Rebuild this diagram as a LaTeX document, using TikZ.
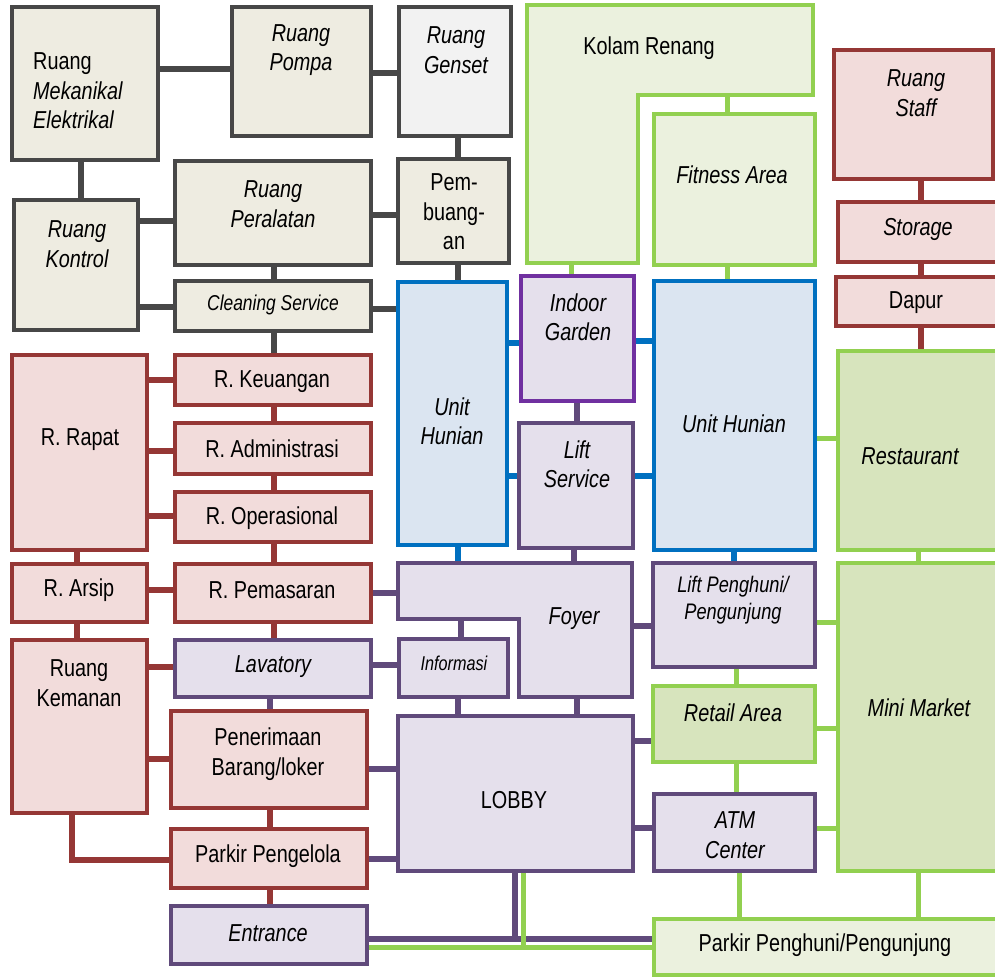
\documentclass[tikz,border=0pt]{standalone}
\usepackage{fontspec}
\setmainfont{Liberation Sans}[FakeStretch=0.81]
\usetikzlibrary{backgrounds}

\definecolor{grayline}{HTML}{474747}
\definecolor{grayfill}{HTML}{EEECE1}
\definecolor{lightfill}{HTML}{F2F2F2}
\definecolor{redline}{HTML}{953735}
\definecolor{redfill}{HTML}{F2DCDB}
\definecolor{blueline}{HTML}{0070C0}
\definecolor{bluefill}{HTML}{DBE5F1}
\definecolor{purpline}{HTML}{604A7B}
\definecolor{violetline}{HTML}{7030A0}
\definecolor{purpfill}{HTML}{E5E0EC}
\definecolor{greenline}{HTML}{92D050}
\definecolor{greenpale}{HTML}{EBF1DE}
\definecolor{greenmid}{HTML}{D7E4BD}

% a room box given by its corner pixels
\newcommand\roombox[6]{%
  \node[#1, minimum width={(#4-#2)*1pt}, minimum height={(#5-#3)*1pt}]
    (#6) at ({(#2+#4)/2},{(#3+#5)/2}) {};}

\tikzset{
  room/.style={draw, line width=3.4pt, inner sep=0pt, outer sep=0pt},
  grayroom/.style={room, draw=grayline, fill=grayfill},
  genroom/.style={room, draw=grayline, fill=lightfill},
  redroom/.style={room, draw=redline, fill=redfill},
  blueroom/.style={room, draw=blueline, fill=bluefill},
  purproom/.style={room, draw=purpline, fill=purpfill},
  violetroom/.style={room, draw=violetline, fill=purpfill},
  paleroom/.style={room, draw=greenline, fill=greenpale},
  midroom/.style={room, draw=greenline, fill=greenmid},
  lbl/.style={align=center, inner sep=0pt, font=\fontsize{24.5}{29.5}\selectfont},
  ilbl/.style={lbl, font=\fontsize{24.5}{29.5}\selectfont\itshape},
  link/.style={line width=5.5pt},
  lgray/.style={link, draw=grayline},
  lred/.style={link, draw=redline, line width=6pt},
  lpurp/.style={link, draw=purpline},
  lblue/.style={link, draw=blueline},
  lgreen/.style={link, draw=greenline, line width=5pt},
}

\begin{document}
\begin{tikzpicture}[x=1pt,y=-1pt]
\useasboundingbox (0,0) rectangle (995,977);

% ---------- service wing (gray)
\roombox{grayroom}{12}{7}{158}{160}{mek}
\roombox{grayroom}{232}{7}{371}{136}{pompa}
\roombox{genroom}{399}{7}{511}{136}{genset}
\roombox{grayroom}{14}{200}{138}{330}{kontrol}
\roombox{grayroom}{175}{161}{371}{265}{alat}
\roombox{grayroom}{398}{159}{509}{263}{buang}
\roombox{grayroom}{175}{281}{371}{331}{clean}

% ---------- residential units (blue)
\roombox{blueroom}{398}{282}{507}{545}{uhl}
\roombox{blueroom}{654}{281}{815}{550}{uhr}

% ---------- recreation (green)
\draw[room, draw=greenline, fill=greenpale]
  (527,5) -- (813,5) -- (813,95) -- (638,95) -- (638,263) -- (527,263) -- cycle;
\coordinate (kolam-s) at (571,263);
\coordinate (kolam-f) at (727,95);
\roombox{paleroom}{654}{114}{815}{265}{fitness}
\roombox{paleroom}{654}{919}{1000}{975}{parkpp}
\roombox{midroom}{838}{351}{1000}{550}{resto}
\roombox{midroom}{838}{563}{1000}{871}{mini}
\roombox{midroom}{653}{686}{815}{762}{retail}

% ---------- management and kitchen (red)
\roombox{redroom}{834}{50}{993}{179}{staff}
\roombox{redroom}{838}{202}{1000}{262}{storage}
\roombox{redroom}{836}{277}{1000}{326}{dapur}
\roombox{redroom}{12}{355}{147}{550}{rapat}
\roombox{redroom}{175}{355}{371}{405}{keu}
\roombox{redroom}{175}{423}{371}{474}{adm}
\roombox{redroom}{175}{492}{371}{542}{ops}
\roombox{redroom}{12}{564}{147}{622}{arsip}
\roombox{redroom}{175}{564}{371}{622}{pemasaran}
\roombox{redroom}{12}{640}{147}{813}{kemanan}
\roombox{redroom}{171}{711}{367}{808}{terima}
\roombox{redroom}{171}{829}{367}{888}{pengelola}

% ---------- public circulation (purple)
\roombox{violetroom}{521}{276}{634}{401}{garden}
\roombox{purproom}{519}{423}{633}{548}{liftsvc}
\draw[room, draw=purpline, fill=purpfill]
  (398,563) -- (632,563) -- (632,697) -- (519,697) -- (519,619) -- (398,619) -- cycle;
\coordinate (foyer-n1) at (458,563);
\coordinate (foyer-n2) at (574,563);
\coordinate (foyer-w) at (398,593);
\coordinate (foyer-e) at (632,626);
\coordinate (foyer-s1) at (461,619);
\coordinate (foyer-s2) at (577,697);
\roombox{purproom}{653}{563}{815}{667}{liftpp}
\roombox{purproom}{175}{640}{371}{697}{lav}
\roombox{purproom}{399}{639}{508}{697}{info}
\roombox{purproom}{398}{716}{633}{871}{lobby}
\roombox{purproom}{654}{794}{815}{871}{atm}
\roombox{purproom}{171}{906}{367}{964}{entrance}

% ---------- links (drawn underneath the rooms)
\begin{scope}[on background layer]
\fill[white] (0,0) rectangle (995,977);
% service wing
\draw[lgray] (mek.east |- 0,69) -- (pompa.west |- 0,69);
\draw[lgray] (pompa.east |- 0,73) -- (genset.west |- 0,73);
\draw[lgray] (genset.south -| 458,0) -- (buang.north -| 458,0);
\draw[lgray] (mek.south -| 81,0) -- (kontrol.north -| 81,0);
\draw[lgray] (kontrol.east |- 0,221) -- (alat.west |- 0,221);
\draw[lgray] (alat.east |- 0,215) -- (buang.west |- 0,215);
\draw[lgray] (alat.south -| 274,0) -- (clean.north -| 274,0);
\draw[lgray] (kontrol.east |- 0,307) -- (clean.west |- 0,307);
\draw[lgray] (clean.east |- 0,309) -- (uhl.west |- 0,309);
\draw[lgray] (buang.south -| 458,0) -- (uhl.north -| 458,0);
\draw[lgray] (clean.south -| 274,0) -- (keu.north -| 274,0);
% offices
\draw[lred] (rapat.east |- 0,380) -- (keu.west |- 0,380);
\draw[lred] (rapat.east |- 0,451) -- (adm.west |- 0,451);
\draw[lred] (rapat.east |- 0,516) -- (ops.west |- 0,516);
\draw[lred] (keu.south -| 274,0) -- (adm.north -| 274,0);
\draw[lred] (adm.south -| 274,0) -- (ops.north -| 274,0);
\draw[lred] (ops.south -| 274,0) -- (pemasaran.north -| 274,0);
\draw[lred] (rapat.south -| 77,0) -- (arsip.north -| 77,0);
\draw[lred] (arsip.east |- 0,590) -- (pemasaran.west |- 0,590);
\draw[lred] (arsip.south -| 77,0) -- (kemanan.north -| 77,0);
\draw[lred] (pemasaran.south -| 274,0) -- (lav.north -| 274,0);
\draw[lred] (kemanan.east |- 0,667) -- (lav.west |- 0,667);
\draw[lred] (kemanan.east |- 0,759) -- (terima.west |- 0,759);
\draw[lred] (terima.south -| 270,0) -- (pengelola.north -| 270,0);
\draw[lred] (kemanan.south -| 72,0) |- (pengelola.west |- 0,860);
\draw[lred] (pengelola.south -| 270,0) -- (entrance.north -| 270,0);
% kitchen
\draw[lred] (staff.south -| 921,0) -- (storage.north -| 921,0);
\draw[lred] (storage.south -| 921,0) -- (dapur.north -| 921,0);
\draw[lred] (dapur.south -| 921,0) -- (resto.north -| 921,0);
% residential
\draw[lblue] (uhl.east |- 0,343) -- (garden.west |- 0,343);
\draw[lblue] (garden.east |- 0,341) -- (uhr.west |- 0,341);
\draw[lblue] (uhl.east |- 0,476) -- (liftsvc.west |- 0,476);
\draw[lblue] (liftsvc.east |- 0,476) -- (uhr.west |- 0,476);
\draw[lblue] (uhl.south -| 458,0) -- (foyer-n1);
\draw[lblue] (uhr.south -| 734,0) -- (liftpp.north -| 734,0);
% recreation
\draw[lgreen] (kolam-s) -- (garden.north -| 571,0);
\draw[lgreen] (kolam-f) -- (fitness.north -| 727,0);
\draw[lgreen] (fitness.south -| 727,0) -- (uhr.north -| 727,0);
\draw[lgreen] (uhr.east |- 0,438) -- (resto.west |- 0,438);
\draw[lgreen] (resto.south -| 918,0) -- (mini.north -| 918,0);
\draw[lgreen] (liftpp.east |- 0,622) -- (mini.west |- 0,622);
\draw[lgreen] (liftpp.south -| 736,0) -- (retail.north -| 736,0);
\draw[lgreen] (retail.east |- 0,728) -- (mini.west |- 0,728);
\draw[lgreen] (retail.south -| 736,0) -- (atm.north -| 736,0);
\draw[lgreen] (atm.east |- 0,828) -- (mini.west |- 0,828);
\draw[lgreen] (atm.south -| 739,0) -- (parkpp.north -| 739,0);
\draw[lgreen] (mini.south -| 918,0) -- (parkpp.north -| 918,0);
% public circulation
\draw[lpurp] (garden.south -| 577,0) -- (liftsvc.north -| 577,0);
\draw[lpurp] (liftsvc.south -| 574,0) -- (foyer-n2);
\draw[lpurp] (pemasaran.east |- 0,593) -- (foyer-w);
\draw[lpurp] (foyer-e) -- (liftpp.west |- 0,626);
\draw[lpurp] (foyer-s1) -- (info.north -| 461,0);
\draw[lpurp] (lav.east |- 0,665) -- (info.west |- 0,665);
\draw[lpurp] (lav.south -| 270,0) -- (terima.north -| 270,0);
\draw[lpurp] (info.south -| 458,0) -- (lobby.north -| 458,0);
\draw[lpurp] (foyer-s2) -- (lobby.north -| 577,0);
\draw[lpurp] (terima.east |- 0,769) -- (lobby.west |- 0,769);
\draw[lpurp] (pengelola.east |- 0,859) -- (lobby.west |- 0,859);
\draw[lpurp] (lobby.east |- 0,741) -- (retail.west |- 0,741);
\draw[lpurp] (lobby.east |- 0,828) -- (atm.west |- 0,828);
\draw[lpurp] (entrance.east |- 0,939) -- (parkpp.west |- 0,939);
\draw[lpurp] (lobby.south -| 515,0) -- (515,939);
\draw[lgreen] (entrance.east |- 0,947) -- (parkpp.west |- 0,947);
\draw[lgreen] (lobby.south -| 523,0) -- (523,947);
\end{scope}

% ---------- room names
\node[lbl, anchor=west, align=left] (mek-t) at (33,91)
  {Ruang\\\itshape Mekanikal\\\itshape Elektrikal};
\node[ilbl] (pompa-t) at (301,50) {Ruang\\Pompa};
\node[ilbl] (genset-t) at (456,50) {Ruang\\Genset};
\node[ilbl] (kontrol-t) at (77,244) {Ruang\\Kontrol};
\node[ilbl] (alat-t) at (273,204) {Ruang\\Peralatan};
\node[lbl] (buang-t) at (454,212) {Pem-\\buang-\\an};
\node[ilbl, font=\fontsize{21.5}{25}\selectfont\itshape] (clean-t) at (273,305) {Cleaning Service};
\node[lbl] (kolam-t) at (649,48) {Kolam Renang};
\node[ilbl] (fitness-t) at (732,175) {Fitness Area};
\node[ilbl] (staff-t) at (916,93) {Ruang\\Staff};
\node[ilbl] (storage-t) at (918,229) {Storage};
\node[lbl] (dapur-t) at (916,303) {Dapur};
\node[ilbl] (garden-t) at (578,317) {Indoor\\Garden};
\node[ilbl] (uhl-t) at (452,421) {Unit\\Hunian};
\node[ilbl] (uhr-t) at (734,424) {Unit Hunian};
\node[ilbl] (resto-t) at (910,456) {Restaurant};
\node[ilbl] (liftsvc-t) at (577,464) {Lift\\Service};
\node[lbl] (rapat-t) at (80,440) {R. Rapat};
\node[lbl] (keu-t) at (272,382) {R. Keuangan};
\node[lbl] (adm-t) at (272,449) {R. Administrasi};
\node[lbl] (ops-t) at (272,518) {R. Operasional};
\node[lbl] (arsip-t) at (79,590) {R. Arsip};
\node[lbl] (pemasaran-t) at (272,590) {R. Pemasaran};
\node[ilbl] (foyer-t) at (574,619) {Foyer};
\node[ilbl, font=\fontsize{22.5}{27.5}\selectfont\itshape] (liftpp-t) at (733,600) {Lift Penghuni/\\Pengunjung};
\node[lbl] (kemanan-t) at (79,683) {Ruang\\Kemanan};
\node[ilbl] (lav-t) at (273,667) {Lavatory};
\node[ilbl, font=\fontsize{20}{23}\selectfont\itshape] (info-t) at (454,663) {Informasi};
\node[ilbl] (mini-t) at (919,708) {Mini Market};
\node[ilbl] (retail-t) at (733,713) {Retail Area};
\node[lbl] (terima-t) at (268,754) {Penerimaan\\Barang/loker};
\node[lbl] (lobby-t) at (514,800) {LOBBY};
\node[ilbl] (atm-t) at (735,835) {ATM\\Center};
\node[lbl] (pengelola-t) at (268,856) {Parkir Pengelola};
\node[ilbl] (entrance-t) at (268,933) {Entrance};
\node[lbl] (parkpp-t) at (825,945) {Parkir Penghuni/Pengunjung};
\end{tikzpicture}
\end{document}
